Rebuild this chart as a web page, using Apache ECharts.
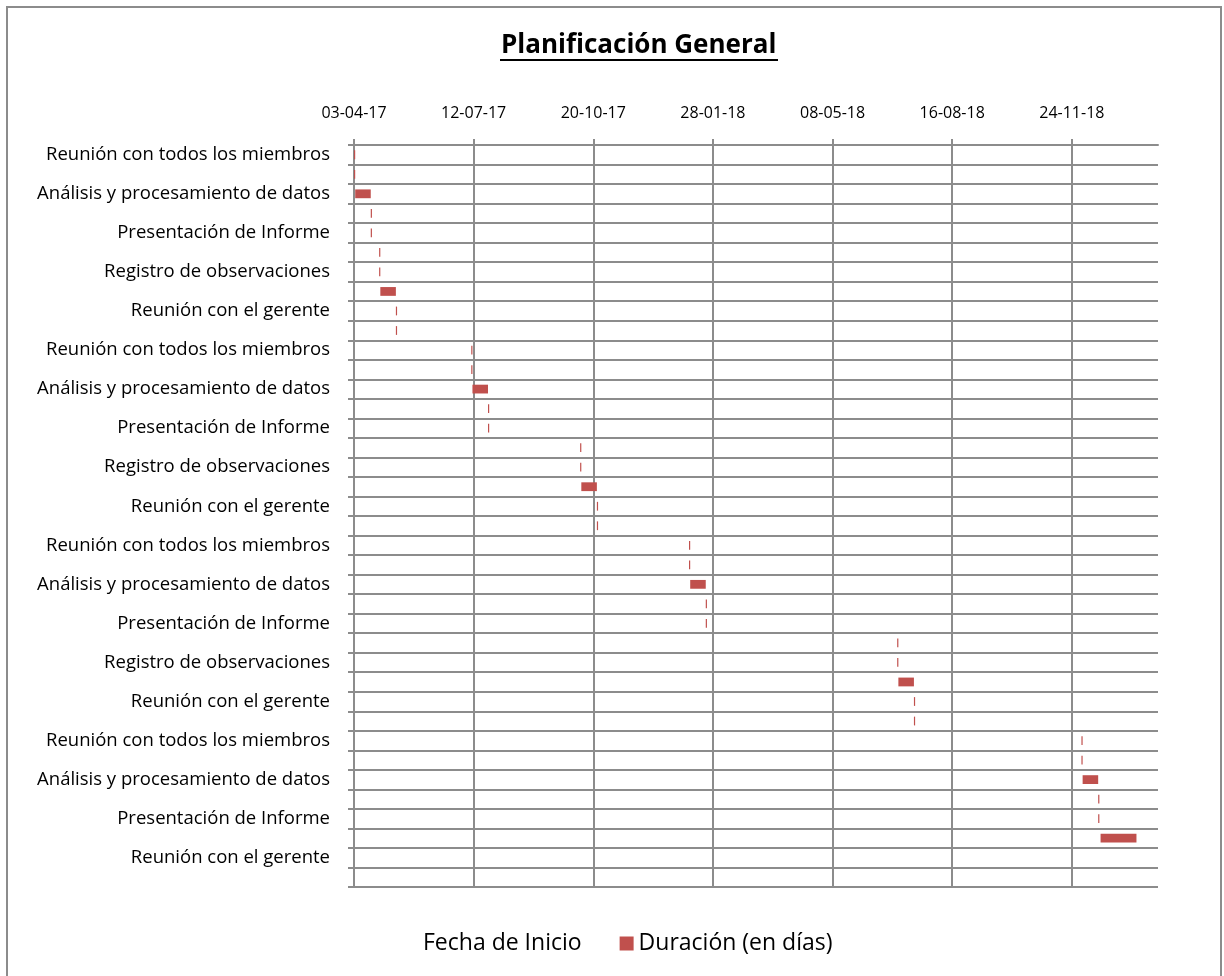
<!DOCTYPE html>
<html>
<head>
<meta charset="utf-8">
<script src="https://cdn.jsdelivr.net/npm/echarts@6/dist/echarts.min.js"></script>
<style>
  html, body { margin: 0; padding: 0; background: #fff; }
  #chart { width: 1224px; height: 976px; }
</style>
</head>
<body>
<div id="chart"></div>
<script>
// tareas (solo se ven las filas pares en el eje)
const tasks = [
  "Reunión con todos los miembros", "Registro de observaciones", "Análisis y procesamiento de datos", "Reunión con el gerente", "Presentación de Informe",
  "Reunión con todos los miembros", "Registro de observaciones", "Análisis y procesamiento de datos", "Reunión con el gerente", "Presentación de Informe",
  "Reunión con todos los miembros", "Registro de observaciones", "Análisis y procesamiento de datos", "Reunión con el gerente", "Presentación de Informe",
  "Reunión con todos los miembros", "Registro de observaciones", "Análisis y procesamiento de datos", "Reunión con el gerente", "Presentación de Informe",
  "Reunión con todos los miembros", "Registro de observaciones", "Análisis y procesamiento de datos", "Reunión con el gerente", "Presentación de Informe",
  "Reunión con todos los miembros", "Registro de observaciones", "Análisis y procesamiento de datos", "Reunión con el gerente", "Presentación de Informe",
  "Reunión con todos los miembros", "Registro de observaciones", "Análisis y procesamiento de datos", "Reunión con el gerente", "Presentación de Informe",
  "Reunión con todos los miembros", "Reunión con el gerente", "Presentación de Informe"
];

// fecha de inicio como número de serie de Excel
const startDates = [
  42828, 42828, 42829, 42842, 42842,
  42849, 42849, 42850, 42863, 42863,
  42926, 42926, 42927, 42940, 42940,
  43017, 43017, 43018, 43031, 43031,
  43108, 43108, 43109, 43122, 43122,
  43282, 43282, 43283, 43296, 43296,
  43436, 43436, 43437, 43450, 43450,
  43452, null, null
];

const durations = [
  1, 1, 13, 1, 1,
  1, 1, 13, 1, 1,
  1, 1, 13, 1, 1,
  1, 1, 13, 1, 1,
  1, 1, 13, 1, 1,
  1, 1, 13, 1, 1,
  1, 1, 13, 1, 1,
  30, null, null
];

const tickLabels = ["03-04-17", "12-07-17", "20-10-17", "28-01-18", "08-05-18", "16-08-18", "24-11-18"];
const xMin = 42828;
const xStep = 100;
const xMax = 43500;
const tickValues = tickLabels.map((_, i) => xMin + i * xStep);

const gridColor = "#8c8c8c";
const font = "'Open Sans', Lato, sans-serif";

const chart = echarts.init(document.getElementById("chart"));

chart.setOption({
  animation: false,
  title: {
    text: "Planificación General",
    left: 496,
    top: 28,
    textStyle: { fontFamily: font, fontSize: 26, fontWeight: "bold", color: "#000" },
  },
  graphic: [
    {
      type: "line",
      shape: { x1: 500, y1: 60, x2: 778, y2: 60 },
      style: { stroke: "#000", lineWidth: 2 },
    },
    {
      type: "rect",
      shape: { x: 7, y: 7, width: 1214, height: 980 },
      style: { fill: "none", stroke: "#8c8c8c", lineWidth: 2 },
      silent: true,
    },
  ],
  legend: {
    top: 927,
    left: 399,
    itemWidth: 14,
    itemHeight: 14,
    itemGap: 38,
    icon: "rect",
    textStyle: { fontFamily: font, fontSize: 23, color: "#000" },
    data: ["Fecha de Inicio", "Duración (en días)"],
  },
  grid: { left: 354, right: 66, top: 145, bottom: 89 },
  xAxis: {
    type: "value",
    position: "top",
    min: xMin,
    max: xMax,
    interval: xStep,
    axisLine: { show: true, lineStyle: { color: gridColor, width: 2 } },
    axisTick: { show: true, length: 6, customValues: tickValues, lineStyle: { color: gridColor, width: 2 } },
    axisLabel: {
      margin: 24,
      customValues: tickValues,
      fontFamily: font,
      fontSize: 16,
      color: "#000",
      formatter: (v) => tickLabels[Math.round((v - xMin) / xStep)] || "",
    },
    splitLine: { show: true, showMinLine: true, showMaxLine: true, lineStyle: { color: gridColor, width: 2 } },
  },
  yAxis: {
    type: "category",
    inverse: true,
    data: tasks,
    axisLine: { show: true, lineStyle: { color: gridColor, width: 2 } },
    axisTick: { show: true, interval: 0, length: 6, lineStyle: { color: gridColor, width: 2 } },
    axisLabel: { interval: 1, margin: 24, fontFamily: font, fontSize: 18.5, color: "#000" },
    splitLine: { show: true, interval: 0, lineStyle: { color: gridColor, width: 2 } },
  },
  series: [
    {
      name: "Fecha de Inicio",
      type: "bar",
      stack: "gantt",
      barWidth: "45%",
      itemStyle: { color: "rgba(0,0,0,0)" },
      data: startDates,
    },
    {
      name: "Duración (en días)",
      type: "bar",
      stack: "gantt",
      barWidth: "45%",
      itemStyle: { color: "#c0504d" },
      data: durations,
    },
  ],
});
</script>
</body>
</html>
